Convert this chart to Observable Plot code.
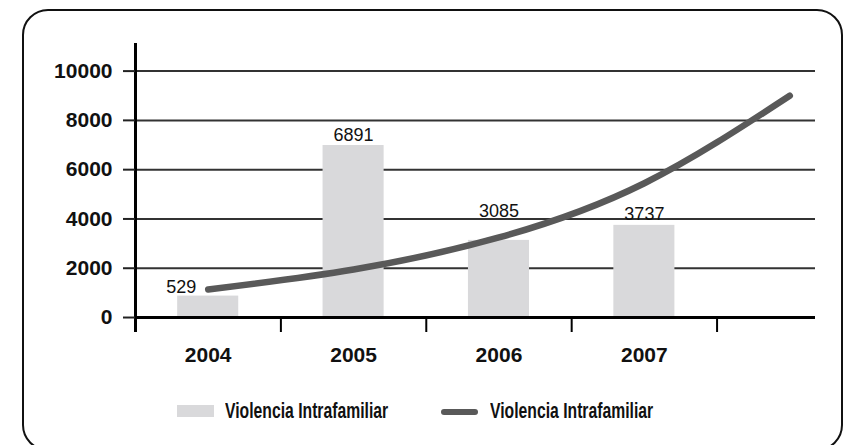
<!DOCTYPE html>
<html>
<head>
<meta charset="utf-8">
<script src="https://cdn.jsdelivr.net/npm/d3@7"></script>
<script src="https://cdn.jsdelivr.net/npm/@observablehq/plot@0.6"></script>
<style>
  html, body { margin: 0; padding: 0; background: #fff; overflow: hidden; }
  #wrap { position: relative; width: 847px; height: 445px; overflow: hidden; }
  #box { position: absolute; left: 22px; top: 9px; width: 817px; height: 438px; border: 2.5px solid #111; border-radius: 26px; }
  #chart { position: absolute; left: 0; top: 0; }
  .lg { position: absolute; font-family: "Liberation Sans", Arial, sans-serif; font-weight: bold; font-size: 22px; line-height: 22px; color: #111; white-space: nowrap; transform: scaleX(0.715); transform-origin: 0 0; }
  .sw { position: absolute; }
</style>
</head>
<body>
<div id="wrap">
  <div id="box"></div>
  <div id="chart"></div>
  <div class="sw" style="left:177px; top:405px; width:37px; height:12px; background:#d9d9db;"></div>
  <div class="lg" style="left:225px; top:400px;">Violencia Intrafamiliar</div>
  <div class="sw" style="left:441px; top:409px; width:37px; height:6px; border-radius:3px; background:#595959;"></div>
  <div class="lg" style="left:490px; top:400px;">Violencia Intrafamiliar</div>
</div>
<script>
// Data
const years = ["2004", "2005", "2006", "2007"];
const barValues = [870, 6980, 3130, 3740];
const barLabels = ["529", "6891", "3085", "3737"];
const trendSteps = [1, 2, 3, 4, 5];
const trendValues = [1140, 1950, 3250, 5450, 9000];
const yTicks = [0, 2000, 4000, 6000, 8000, 10000];
const boundaries = [1.5, 2.5, 3.5, 4.5];

const barData = years.map((y, k) => ({i: k + 1, year: y, value: barValues[k], label: barLabels[k]}));
const trendData = trendSteps.map((s, k) => ({i: s, value: trendValues[k]}));

const chart = Plot.plot({
  width: 847,
  height: 375,
  marginLeft: 135,
  marginRight: 32,
  marginTop: 43,
  marginBottom: 43,
  x: {type: "linear", domain: [0.5, 5.177]},
  y: {domain: [-608, 11120]},
  style: {fontFamily: "'Liberation Sans', Arial, sans-serif", background: "transparent", overflow: "visible"},
  marks: [
    Plot.ruleY(yTicks.filter(t => t > 0), {stroke: "#333", strokeWidth: 2}),
    Plot.rect(barData, {x1: d => d.i - 0.21, x2: d => d.i + 0.21, y1: 0, y2: "value", fill: "#d9d9db"}),
    Plot.ruleY([0], {stroke: "#000", strokeWidth: 3}),
    Plot.ruleX([0.5], {stroke: "#000", strokeWidth: 3}),
    Plot.ruleX(boundaries, {y1: 0, y2: -608, stroke: "#000", strokeWidth: 2}),
    Plot.axisY({ticks: yTicks, tickSize: 12, tickPadding: 11, tickFormat: d => String(d), fontSize: 21, fontWeight: "bold", label: null, stroke: "#222", strokeWidth: 2, fill: "#111"}),
    Plot.axisX({ticks: [1, 2, 3, 4], tickSize: 0, tickPadding: 15, tickFormat: i => years[i - 1], fontSize: 21, fontWeight: "bold", label: null, fill: "#111"}),
    Plot.text(barData.filter(d => d.i === 2 || d.i === 4), {x: "i", y: "value", text: "label", dy: -5, lineAnchor: "bottom", fontSize: 18, fill: "#111"}),
    Plot.text(barData.filter(d => d.i === 1), {x: "i", y: "value", text: "label", dx: -27, dy: -3, lineAnchor: "bottom", fontSize: 18, fill: "#111"}),
    Plot.text(barData.filter(d => d.i === 3), {x: "i", y: "value", text: "label", dy: -23, lineAnchor: "bottom", fontSize: 18, fill: "#111"}),
    Plot.line(trendData, {x: "i", y: "value", curve: "natural", stroke: "#595959", strokeWidth: 6.5, strokeLinecap: "round"})
  ]
});
document.getElementById("chart").appendChild(chart);
</script>
</body>
</html>
